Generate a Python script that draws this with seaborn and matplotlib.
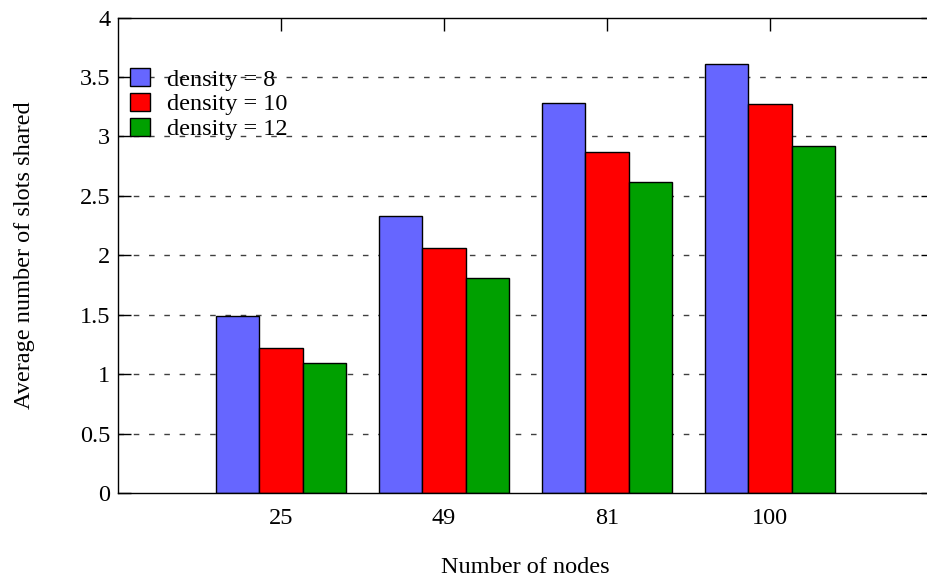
import matplotlib
matplotlib.use("Agg")
import matplotlib.pyplot as plt
import seaborn as sns
import pandas as pd
from matplotlib.patches import Patch

nodes = ["25", "49", "81", "100"]
density_labels = ["density = 8", "density = 10", "density = 12"]
d8 = [1.49, 2.33, 3.28, 3.61]
d10 = [1.22, 2.06, 2.87, 3.27]
d12 = [1.09, 1.81, 2.62, 2.92]
yticks = [0, 0.5, 1, 1.5, 2, 2.5, 3, 3.5, 4]
ytick_labels = ["0", "0.5", "1", "1.5", "2", "2.5", "3", "3.5", "4"]
colors = ["#6666ff", "#ff0000", "#00a000"]

rows = []
for lab, vals in zip(density_labels, [d8, d10, d12]):
    for n, v in zip(nodes, vals):
        rows.append({"nodes": n, "value": v, "density": lab})
df = pd.DataFrame(rows)

sns.set_theme(style="white")
plt.rcParams["font.family"] = ["Liberation Serif", "DejaVu Serif"]

FS = 17.5
fig = plt.figure(figsize=(9.27, 5.77), dpi=100)
W, H = 927, 577
left, right, top, bottom = 118, 933, 17.5, 493
ax = fig.add_axes([left / W, (H - bottom) / H, (right - left) / W, (bottom - top) / H])

sns.barplot(data=df, x="nodes", y="value", hue="density", order=nodes,
            hue_order=density_labels, palette=colors, edgecolor="black",
            linewidth=1.0, width=0.8, saturation=1, ax=ax, legend=False)

ax.set_xlim(-1, 4)
ax.set_ylim(0, 4)
ax.set_yticks(yticks)
ax.set_yticklabels(ytick_labels)
ax.set_axisbelow(True)
for y in yticks[1:-1]:
    ax.axhline(y, color="0.25", linewidth=1.0, linestyle=(0, (4, 7)), zorder=0)

for s in ax.spines.values():
    s.set_color("black")
    s.set_linewidth(1.0)

ax.tick_params(axis="x", bottom=False, top=True, direction="in", length=9,
               width=1, color="black", labelbottom=True, labelsize=FS, pad=11)
ax.tick_params(axis="y", left=True, right=True, direction="in", length=9,
               width=1, color="black", labelsize=FS, pad=5.5)
for lbl in ax.get_xticklabels() + ax.get_yticklabels():
    lbl.set_color("black")

ax.set_xlabel("Number of nodes", fontsize=FS, color="black", labelpad=20)
ax.set_ylabel("Average number of slots shared", fontsize=FS, color="black", labelpad=32)

handles = [Patch(facecolor=c, edgecolor="black", linewidth=1.0) for c in colors]
leg = ax.legend(handles, density_labels, loc="upper left", frameon=False,
                fontsize=FS, handlelength=0.82, handleheight=0.78,
                handletextpad=0.7, labelspacing=0.09, borderpad=0,
                borderaxespad=0, bbox_to_anchor=(0.0147, 0.8937))
for t in leg.get_texts():
    t.set_color("black")

fig.savefig("out.png", dpi=100)
